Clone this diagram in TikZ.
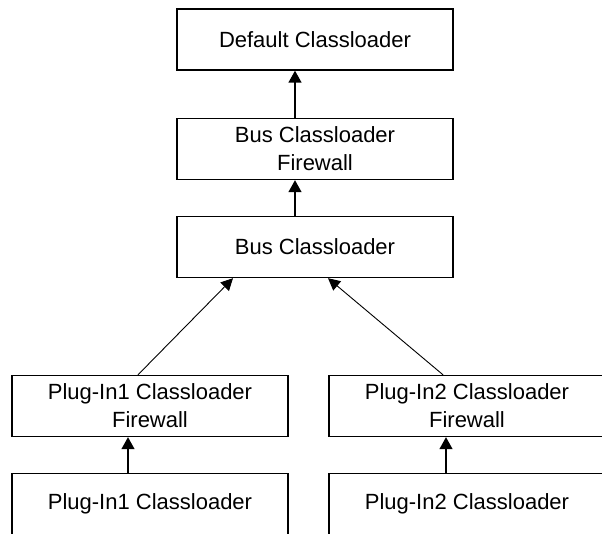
\documentclass[tikz,border=0pt]{standalone}
\usepackage{fontspec}
\setmainfont{Liberation Sans}
\usetikzlibrary{arrows.meta}

\begin{document}
\begin{tikzpicture}[x=1pt, y=1pt,
  loader/.style={draw, line width=1.4pt, align=center, inner sep=0pt,
    minimum width=276pt, minimum height=61pt,
    font=\fontsize{22}{28}\selectfont},
  up/.style={line width=1.4pt, -{Triangle[length=12pt,width=13pt]}},
  slant/.style={line width=0.9pt, -{Triangle[length=12pt,width=12pt]}}]

\useasboundingbox (0,0) rectangle (602,533);
\clip (0,0) rectangle (602,533);

% Bus side
\node [loader] (default) at (315, 493.5) {Default Classloader};
\node [loader] (busfw) at (315, 384) {Bus Classloader\\Firewall};
\node [loader] (bus) at (315, 286) {Bus Classloader};

% Plug-ins
\node [loader] (pifwA) at (150, 127) {Plug-In1 Classloader\\Firewall};
\node [loader] (piA) at (150, 29) {Plug-In1 Classloader};

\node [loader] (pifwB) at (467, 127) {Plug-In2 Classloader\\Firewall};
\node [loader] (piB) at (467, 29) {Plug-In2 Classloader};

% Arrows
\draw [up] ([xshift=-20pt]busfw.north) -- ([xshift=-20pt]default.south);
\draw [up] ([xshift=-20pt]bus.north) -- ([xshift=-20pt]busfw.south);

\draw [slant] ([xshift=-12pt]pifwA.north) -- ([xshift=-82pt]bus.south);
\draw [slant] ([xshift=-24pt]pifwB.north) -- ([xshift=13pt]bus.south);

\draw [up] ([xshift=-22pt]piA.north) -- ([xshift=-22pt]pifwA.south);
\draw [up] ([xshift=-21pt]piB.north) -- ([xshift=-21pt]pifwB.south);

\end{tikzpicture}
\end{document}
